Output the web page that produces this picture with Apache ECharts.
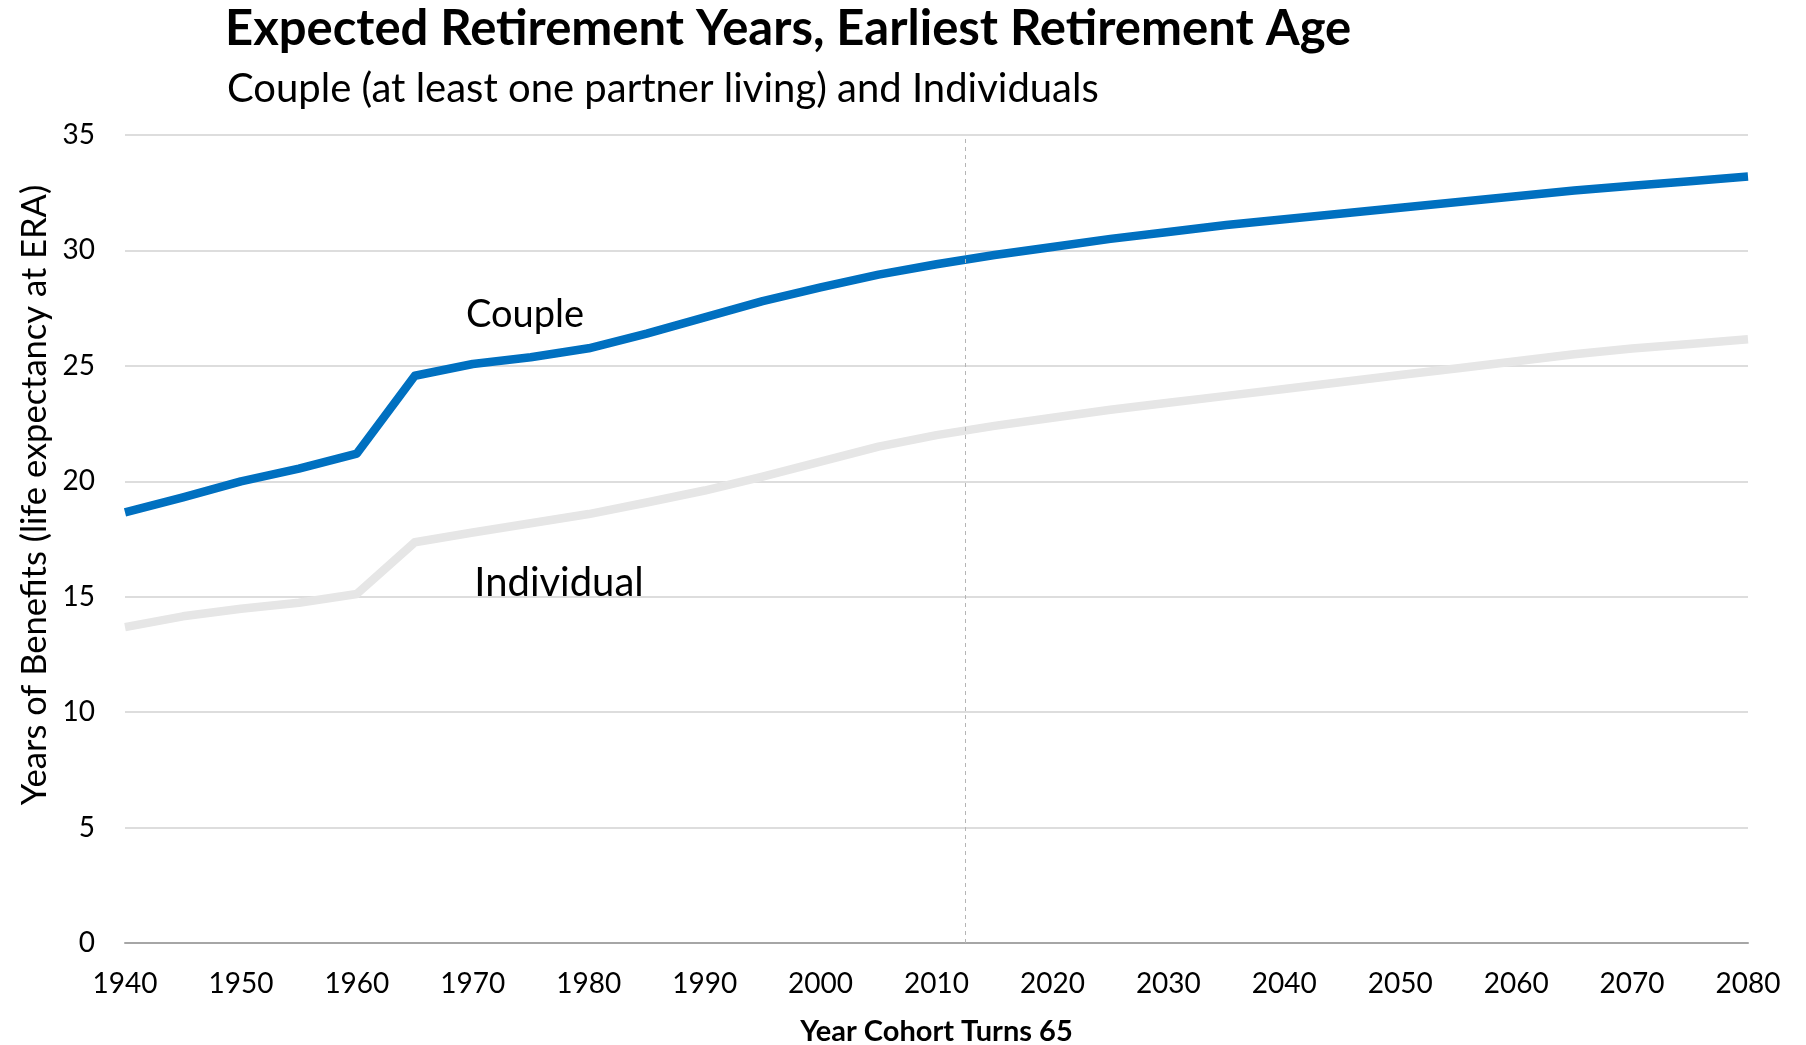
<!DOCTYPE html>
<html>
<head>
<meta charset="utf-8">
<script src="https://cdn.jsdelivr.net/npm/echarts@6/dist/echarts.min.js"></script>
<style>
html,body{margin:0;padding:0;background:#fff;}
#c{width:1806px;height:1045px;}
</style>
</head>
<body>
<div id="c"></div>
<script>
const years = [1940,1945,1950,1955,1960,1965,1970,1975,1980,1985,1990,1995,2000,2005,2010,2015,2020,2025,2030,2035,2040,2045,2050,2055,2060,2065,2070,2075,2080];
const couple = [18.65,19.3,20.0,20.55,21.2,24.57,25.08,25.37,25.76,26.4,27.1,27.8,28.4,28.95,29.4,29.8,30.15,30.5,30.8,31.1,31.35,31.6,31.85,32.1,32.35,32.6,32.8,33.0,33.2];
const individual = [13.68,14.15,14.48,14.74,15.12,17.36,17.78,18.18,18.58,19.08,19.6,20.2,20.85,21.5,22.0,22.4,22.75,23.1,23.4,23.7,24.0,24.3,24.6,24.9,25.2,25.5,25.75,25.95,26.15];
const yTicks = [0,5,10,15,20,25,30,35];
const xTicks = [1940,1950,1960,1970,1980,1990,2000,2010,2020,2030,2040,2050,2060,2070,2080];
const markerYear = 2012.5;

const FONT = 'Lato';
const chart = echarts.init(document.getElementById('c'));
chart.setOption({
  backgroundColor: '#ffffff',
  animation: false,
  title: [
    {text: 'Expected Retirement Years, Earliest Retirement Age', left: 220, top: 0,
     textStyle: {fontFamily: FONT, fontWeight: 'bold', fontSize: 49, color: '#000'}},
    {text: 'Couple (at least one partner living) and Individuals', left: 222, top: 64,
     textStyle: {fontFamily: FONT, fontWeight: 'normal', fontSize: 40, color: '#000'}}
  ],
  grid: {left: 125, right: 58, top: 135, bottom: 102, outerBoundsMode: 'none', containLabel: false},
  xAxis: {
    type: 'value', min: 1940, max: 2080, interval: 10,
    axisLine: {show: true, lineStyle: {color: '#a6a6a6', width: 2}},
    axisTick: {show: false},
    splitLine: {show: false},
    axisLabel: {fontFamily: FONT, fontSize: 28, color: '#000', margin: 27,
      formatter: v => xTicks.includes(v) ? String(v) : ''},
    name: 'Year Cohort Turns 65', nameLocation: 'middle', nameGap: 74,
    nameTextStyle: {fontFamily: FONT, fontWeight: 'bold', fontSize: 29, color: '#000'}
  },
  yAxis: {
    type: 'value', min: 0, max: 35, interval: 5,
    axisLine: {show: false}, axisTick: {show: false},
    splitLine: {show: true, lineStyle: {color: '#d2d2d2', width: 1.5}},
    axisLabel: {fontFamily: FONT, fontSize: 28, color: '#000', margin: 30,
      formatter: v => yTicks.includes(v) ? String(v) : ''}
  },
  graphic: [
    {type: 'text', x: 35, y: 495, rotation: Math.PI/2,
     style: {text: 'Years of Benefits (life expectancy at ERA)', fontFamily: FONT, fontSize: 34.5,
       fill: '#000', textAlign: 'center', textVerticalAlign: 'middle'}},
    {type: 'text', x: 525, y: 315,
     style: {text: 'Couple', fontFamily: FONT, fontSize: 38, fill: '#000', textAlign: 'center', textVerticalAlign: 'middle'}},
    {type: 'text', x: 559, y: 583,
     style: {text: 'Individual', fontFamily: FONT, fontSize: 40, fill: '#000', textAlign: 'center', textVerticalAlign: 'middle'}}
  ],
  series: [
    {name: 'Individual', type: 'line', symbol: 'none', z: 2,
     data: years.map((y, i) => [y, individual[i]]),
     lineStyle: {color: '#e6e6e6', width: 8.5, cap: 'butt', join: 'round'}},
    {name: 'Couple', type: 'line', symbol: 'none', z: 3,
     data: years.map((y, i) => [y, couple[i]]),
     lineStyle: {color: '#0070c0', width: 8.5, cap: 'butt', join: 'round'},
     markLine: {silent: true, symbol: ['none','none'], label: {show: false},
       lineStyle: {color: '#b5b5b5', type: [4,4], width: 1},
       data: [{xAxis: markerYear}]}}
  ]
});
</script>
</body>
</html>
